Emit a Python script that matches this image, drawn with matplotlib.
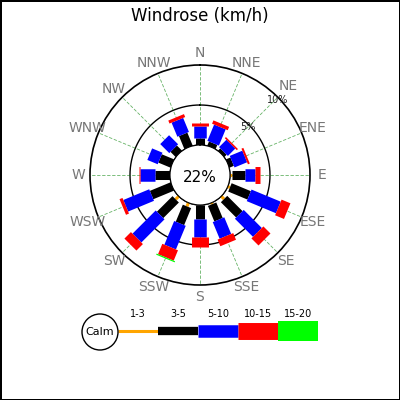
import numpy as np
import matplotlib
matplotlib.use('Agg')
import matplotlib.pyplot as plt
from matplotlib.patches import Circle

# wind directions and speed bins
directions = ['N', 'NNE', 'NE', 'ENE', 'E', 'ESE', 'SE', 'SSE',
              'S', 'SSW', 'SW', 'WSW', 'W', 'WNW', 'NW', 'NNW']
bins = ['1-3', '3-5', '5-10', '10-15', '15-20']
calm = 22

# frequency (%) per direction for each speed bin
f_1_3 = [0, 0, 0, 0, 0.25, 0.3, 0.5, 0.2, 0, 0.5, 0.55, 0, 0, 0, 0, 0]
f_3_5 = [0.9, 0.55, 0.4, 0.6, 1.6, 2.6, 2.7, 2.1, 1.7, 2.3, 2.75, 2.8, 1.9, 1.65, 0.9, 1.75]
f_5_10 = [1.5, 2.2, 1.3, 1.7, 1.3, 3.95, 3.2, 2.25, 2.3, 3.2, 4.1, 3.5, 1.8, 1.4, 1.6, 1.9]
f_10_15 = [0.4, 0.45, 0.2, 0.25, 0.55, 1.2, 1.25, 0.9, 1.3, 1.4, 1.15, 0.4, 0.2, 0, 0, 0.4]
f_15_20 = [0, 0, 0, 0, 0, 0, 0, 0, 0, 0.15, 0, 0, 0, 0, 0, 0]
series = [f_1_3, f_3_5, f_5_10, f_10_15, f_15_20]

colors = ['#FFA500', '#000000', '#0000FF', '#FF0000', '#00FF00']
widths = [2.2, 6.5, 9.0, 12.2, 14.4]

theta = np.deg2rad(np.arange(len(directions)) * 22.5)

fig = plt.figure(figsize=(4, 4), dpi=100)
fig.patch.set_edgecolor('black')
fig.patch.set_linewidth(2)

ax = fig.add_axes([0.225, 0.2875, 0.55, 0.55], projection='polar')
ax.set_theta_zero_location('N')
ax.set_theta_direction(-1)
ax.set_rorigin(-3.75)
ax.set_ylim(0, 10)
ax.grid(False)
ax.set_xticks([])
ax.set_yticks([])
for name in ['start', 'end', 'inner']:
    if name in ax.spines:
        ax.spines[name].set_visible(False)
ax.spines['polar'].set_linewidth(1.2)

full = np.linspace(0, 2 * np.pi, 361)
ax.plot(full, np.zeros_like(full), color='black', lw=1, zorder=4)
ax.plot(full, np.full_like(full, 5), color='black', lw=1, zorder=1)

for t in theta:
    ax.plot([t, t], [0, 10], color='green', alpha=0.6, lw=0.6,
            dashes=(4, 2), zorder=1)

for i, t in enumerate(theta):
    base = 0
    for k, vals in enumerate(series):
        v = vals[i]
        if v > 0:
            ax.plot([t, t], [base, base + v], color=colors[k], lw=widths[k],
                    solid_capstyle='butt', zorder=3)
        base += v

for i, t in enumerate(theta):
    r = 11.9 if directions[i] == 'NE' else 11.45
    ax.text(t, r, directions[i], color='#777777', fontsize=10,
            ha='center', va='center')

ax.text(np.deg2rad(45), 4.8, '5%', fontsize=7, color='#222222',
        ha='center', va='center')
ax.text(np.deg2rad(46), 9.75, '10%', fontsize=7, color='#222222',
        ha='center', va='center')

fig.text(0.5, 1 - 177 / 400, '%d%%' % calm, fontsize=11,
         ha='center', va='center')
fig.text(0.5, 1 - 16 / 400, 'Windrose (km/h)', fontsize=12,
         ha='center', va='center')

# legend
lax = fig.add_axes([0, 0, 1, 1], zorder=-1)
lax.set_xlim(0, 400)
lax.set_ylim(400, 0)
lax.axis('off')
lax.patch.set_visible(False)

lax.add_patch(Circle((100, 332), 18, facecolor='white', edgecolor='black',
                     lw=1, zorder=3))
lax.text(100, 332, 'Calm', fontsize=8, ha='center', va='center', zorder=4)
x0 = 118
for k, lab in enumerate(bins):
    lax.plot([x0 + 40 * k, x0 + 40 * (k + 1)], [331, 331], color=colors[k],
             lw=widths[k] * (1.0 if k != 1 else 0.92), solid_capstyle='butt')
    lax.text(x0 + 40 * k + 20, 314, lab, fontsize=7, ha='center', va='center')

fig.savefig('out.png', dpi=100)
